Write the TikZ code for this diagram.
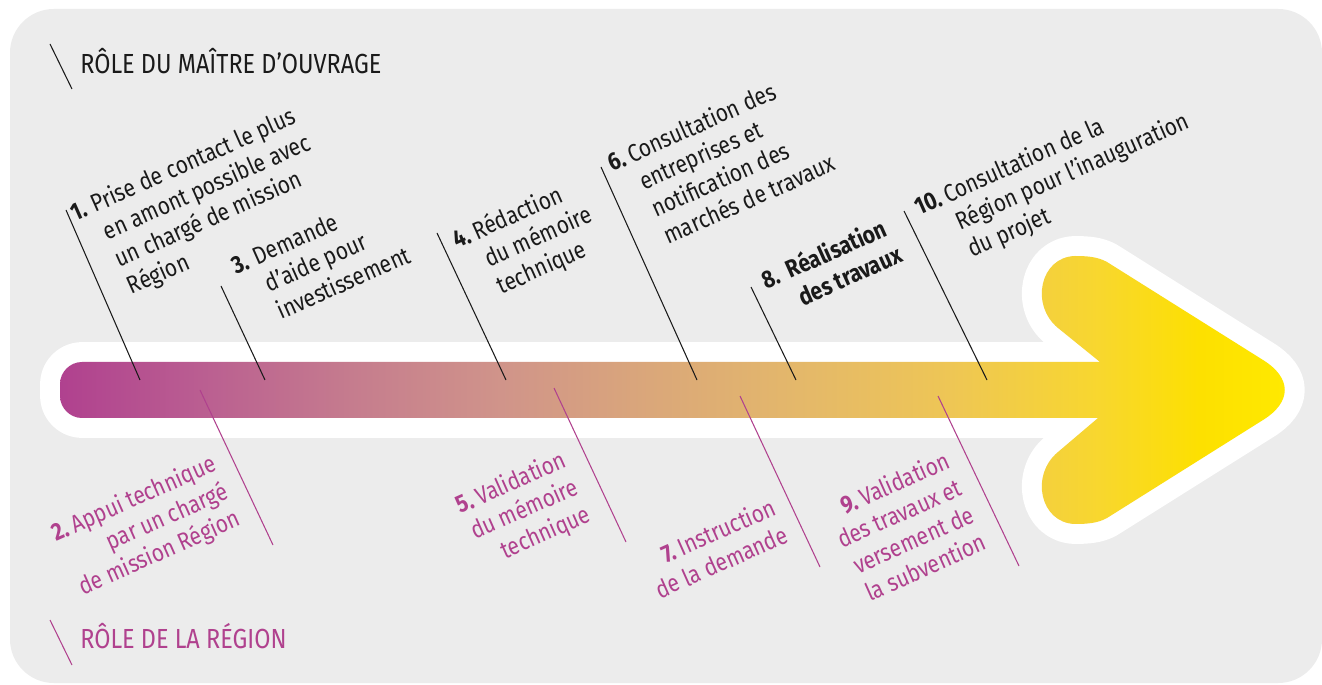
\documentclass[tikz,border=0pt]{standalone}
\usepackage{fontspec}
\setmainfont{Fira Sans}[FakeStretch=0.85]
\usetikzlibrary{positioning}
\definecolor{bggrey}{HTML}{ECECEC}
\definecolor{ink}{HTML}{1A1A1A}
\definecolor{regmag}{HTML}{B0418E}
\definecolor{fadeA}{HTML}{B0418F}
\definecolor{fadeB}{HTML}{BA5E91}
\definecolor{fadeC}{HTML}{C57C8E}
\definecolor{fadeD}{HTML}{D0948A}
\definecolor{fadeE}{HTML}{DAA77A}
\definecolor{fadeF}{HTML}{E4B86A}
\definecolor{fadeG}{HTML}{EEC655}
\definecolor{fadeH}{HTML}{F8D72E}
\definecolor{fadeI}{HTML}{FDE000}
\definecolor{fadeJ}{HTML}{FFEA00}
\pgfdeclarehorizontalshading{arrowfade}{100bp}{color(0bp)=(fadeA); color(25bp)=(fadeA);
  color(30.7bp)=(fadeB); color(36.8bp)=(fadeC); color(42.9bp)=(fadeD); color(48.9bp)=(fadeE);
  color(55bp)=(fadeF); color(61.1bp)=(fadeG); color(67.2bp)=(fadeH); color(71.3bp)=(fadeI);
  color(75bp)=(fadeJ); color(100bp)=(fadeJ)}
\tikzset{
  lblup/.style={rotate=24, anchor=base west, inner sep=0pt, text=ink, font=\fontsize{14}{17}\selectfont},
  lbldn/.style={rotate=24, anchor=base east, inner sep=0pt, text=regmag, font=\fontsize{14}{17}\selectfont},
  tickup/.style={draw=ink, line width=0.6pt},
  tickdn/.style={draw=regmag, line width=0.6pt},
  header/.style={anchor=base west, inner sep=0pt, font=\fontsize{15.7}{18}\selectfont}
}

\begin{document}
\begin{tikzpicture}[x=0.02cm, y=-0.02cm]
\useasboundingbox (0,0) rectangle (1322,685);
\fill[white] (0,0) rectangle (1322,685);
\fill[bggrey, rounded corners=25pt] (10,9) rectangle (1322,683);

\path[shading=arrowfade, preaction={draw=white, line width=22.7pt, line join=round}]
  (1100,362) -- (1058,328) .. controls (1030,305) and (1040,257) .. (1075,256)
  .. controls (1088,256) and (1098,257) .. (1107,262) -- (1263,360)
  .. controls (1292,378) and (1292,402) .. (1263,420) -- (1107,518)
  .. controls (1098,523) and (1088,524) .. (1075,524)
  .. controls (1040,523) and (1030,475) .. (1058,452) -- (1098,418) -- (82,418)
  .. controls (70,418) and (60,408) .. (60,396) -- (60,384)
  .. controls (60,372) and (70,362) .. (82,362) -- cycle;

\node (hdrmo) [header, text=ink] at (80,74) {RÔLE DU MAÎTRE D'OUVRAGE};
\coordinate (hdrmoA) at (50,44);
\coordinate (hdrmoB) at (72,89);
\draw[tickup] (hdrmoA) -- (hdrmoB);
\node (hdrreg) [header, text=regmag] at (80,648) {RÔLE DE LA RÉGION};
\coordinate (hdrregA) at (50,620);
\coordinate (hdrregB) at (72,665);
\draw[tickdn] (hdrregA) -- (hdrregB);

\coordinate (up1a) at (66,210);
\coordinate (up1b) at (140,380);
\draw[tickup] (up1a) -- (up1b);
\coordinate (up3a) at (221,286);
\coordinate (up3b) at (265,380);
\draw[tickup] (up3a) -- (up3b);
\coordinate (up4a) at (437,233);
\coordinate (up4b) at (506,380);
\draw[tickup] (up4a) -- (up4b);
\coordinate (up6a) at (601,167);
\coordinate (up6b) at (697,380);
\draw[tickup] (up6a) -- (up6b);
\coordinate (up8a) at (751,287);
\coordinate (up8b) at (796,380);
\draw[tickup] (up8a) -- (up8b);
\coordinate (up10a) at (904,211);
\coordinate (up10b) at (987,380);
\draw[tickup] (up10a) -- (up10b);

\coordinate (dn2a) at (200,390);
\coordinate (dn2b) at (273,545);
\draw[tickdn] (dn2a) -- (dn2b);
\coordinate (dn5a) at (554,388);
\coordinate (dn5b) at (626,542);
\draw[tickdn] (dn5a) -- (dn5b);
\coordinate (dn7a) at (740,396);
\coordinate (dn7b) at (820,567);
\draw[tickdn] (dn7a) -- (dn7b);
\coordinate (dn9a) at (938,396);
\coordinate (dn9b) at (1019,566);
\draw[tickdn] (dn9a) -- (dn9b);

\node (step1) [lblup] at (75,222) {\begin{tabular}[t]{@{}l@{\hspace{.3em}}l@{}}\textbf{1.}&Prise de contact le plus\\&en amont possible avec\\&un chargé de mission\\&Région\end{tabular}};
\node (step3) [lblup] at (236,275) {\begin{tabular}[t]{@{}l@{\hspace{.3em}}l@{}}\textbf{3.}&Demande\\&d'aide pour\\&investissement\end{tabular}};
\node (step4) [lblup] at (457,249) {\begin{tabular}[t]{@{}l@{\hspace{.2em}}l@{}}\textbf{4.}&Rédaction\\&du mémoire\\&technique\end{tabular}};
\node (step6) [lblup] at (612,172) {\begin{tabular}[t]{@{}l@{\hspace{.2em}}l@{}}\textbf{6.}&Consultation des\\&entreprises et\\&notification des\\&marchés de travaux\end{tabular}};
\node (step8) [lblup] at (766,290) {\bfseries\begin{tabular}[t]{@{}l@{\hspace{.4em}}l@{}}8.&Réalisation\\&des travaux\end{tabular}};
\node (step10) [lblup] at (919,216) {\begin{tabular}[t]{@{}l@{\hspace{.2em}}l@{}}\textbf{10.}&Consultation de la\\&Région pour l'inauguration\\&du projet\end{tabular}};

\node (step2) [lbldn] at (218,470) {\begin{tabular}[t]{@{}r@{}}\textbf{2.}\hspace{.2em}Appui technique\\par un chargé\\de mission Région\end{tabular}};
\node (step5) [lbldn] at (568,466) {\begin{tabular}[t]{@{}r@{}}\textbf{5.}\hspace{.2em}Validation\\du mémoire\\technique\end{tabular}};
\node (step7) [lbldn] at (778,514) {\begin{tabular}[t]{@{}r@{}}\textbf{7.}\hspace{.2em}Instruction\\de la demande\end{tabular}};
\node (step9) [lbldn] at (952,467) {\begin{tabular}[t]{@{}r@{}}\textbf{9.}\hspace{.2em}Validation\\des travaux et\\versement de\\la subvention\end{tabular}};
\end{tikzpicture}
\end{document}
